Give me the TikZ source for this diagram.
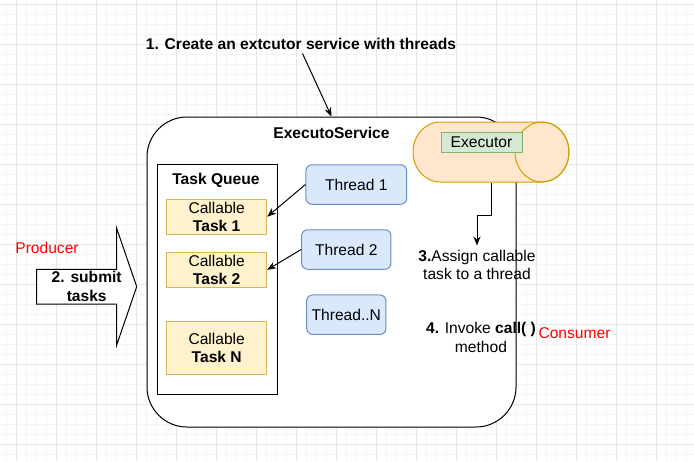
\documentclass[tikz,border=0pt]{standalone}
\usepackage{fontspec}
\setmainfont{Liberation Sans}
\usetikzlibrary{arrows.meta}
\definecolor{gridminor}{HTML}{F4F4F4}
\definecolor{gridmajor}{HTML}{E6E6E6}
\definecolor{taskfill}{HTML}{FFF2CC}
\definecolor{taskline}{HTML}{D6B656}
\definecolor{threadfill}{HTML}{DAE8FC}
\definecolor{threadline}{HTML}{6C8EBF}
\definecolor{exefill}{HTML}{FFE6CC}
\definecolor{exeline}{HTML}{D79B00}
\definecolor{poolfill}{HTML}{D5E8D4}
\definecolor{poolline}{HTML}{82B366}
\definecolor{rolered}{HTML}{FF0000}
\begin{document}
\begin{tikzpicture}[x=1pt,y=-1pt,line width=1pt,font=\fontsize{15.6}{18.5}\selectfont]
\tikzstyle{every node}=[inner sep=0pt,align=center]
\tikzstyle{bold}=[font=\fontsize{15.6}{18.5}\selectfont\bfseries]
\tikzstyle{task}=[draw=taskline,fill=taskfill,minimum width=100]
\tikzstyle{thread}=[draw=threadline,fill=threadfill,rounded corners=6,minimum height=39.5]
\tikzstyle{note}=[text=rolered]
\tikzstyle{link}=[-{Stealth[length=9,width=7]}]
\useasboundingbox (0,0) rectangle (694,461);
% background grid
\foreach \i in {0,...,68} \draw[gridminor,line width=0.6pt] (6.7+10*\i,0) -- +(0,461);
\foreach \i in {0,...,45} \draw[gridminor,line width=0.6pt] (0,4+10*\i) -- +(694,0);
\foreach \i in {0,...,16} \draw[gridmajor] (16.7+40*\i,0) -- +(0,461);
\foreach \i in {0,...,11} \draw[gridmajor] (0,4+40*\i) -- +(694,0);
% executor service
\node[draw,fill=white,rounded corners=40,minimum width=369,minimum height=310](svc) at (331.5,272) {};
\node[bold](svctitle) at (331.5,132.5) {ExecutoService};
\node[bold](title) at (301,44) {1. Create an extcutor service with threads};
\draw[link,shorten <=3.5] (title.south) -- (svc.north);
% executor cylinder
\node[minimum width=156,minimum height=60](exe) at (491,152) {};
\draw[draw=exeline,fill=exefill] (440,122) -- (542,122) arc[start angle=-90,end angle=90,x radius=27,y radius=30]
  -- (440,182) arc[start angle=90,end angle=270,x radius=27,y radius=30] -- cycle;
\draw[exeline] (542,152) ellipse[x radius=27,y radius=30];
\node[draw=poolline,fill=poolfill,minimum width=81,minimum height=19.6](pool) at (481.5,142.5) {Executor};
% task queue
\node[draw,fill=white,minimum width=120,minimum height=229.6](queue) at (217,279.5) {};
\node[bold](queuetitle) at (216,180) {Task Queue};
\node[task,minimum height=34.7](task1) at (216.7,216.7) {Callable\\\textbf{Task 1}};
\node[task,minimum height=35](task2) at (216.7,269.8) {Callable\\\textbf{Task 2}};
\node[task,minimum height=52.6](taskn) at (216.7,348) {Callable\\\textbf{Task N}};
% threads
\node[thread,minimum width=100.7](thread1) at (356.3,184.5) {Thread 1};
\node[thread,minimum width=89.3](thread2) at (346.3,249.5) {Thread 2};
\node[thread,minimum width=79.3](threadn) at (346.3,314.7) {Thread..N};
\draw[link] (thread1.west) -- (task1.east);
\draw[link] (thread2.west) -- (task2.east);
% producer side
\draw[fill=white] (36.7,269.3) -- (116.7,269.3) -- (116.7,228.3) -- (136.7,286.7) -- (116.7,345) -- (116.7,304) -- (36.7,304) -- cycle;
\node[bold](submit) at (86.7,286.5) {2. submit\\tasks};
\node[note](producer) at (47,248) {Producer};
% consumer side
\node[inner ysep=4](assign) at (477,265) {\textbf{3.}Assign callable\\task to a thread};
\draw[link] (exe.south) -- ++(0,33) -| (assign.north);
\node(invoke) at (481,337.5) {\textbf{4.} Invoke \textbf{call( )}\\method};
\node[note](consumer) at (574.5,333) {Consumer};
\end{tikzpicture}
\end{document}
